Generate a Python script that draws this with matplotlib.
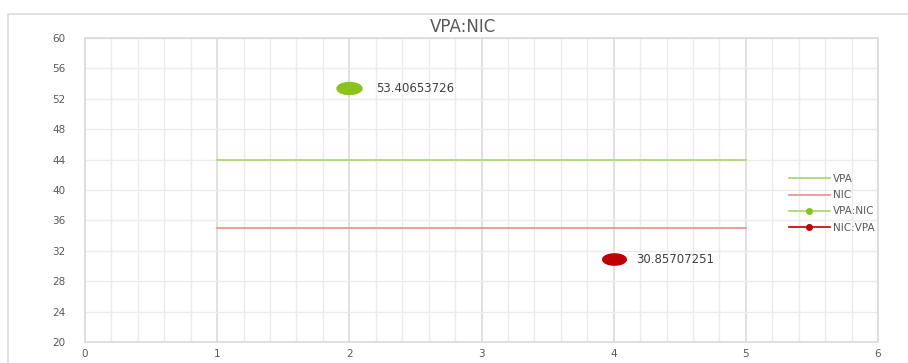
import numpy as np
import matplotlib
matplotlib.use("Agg")
import matplotlib.pyplot as plt
from matplotlib.path import Path
from matplotlib.patches import Rectangle
from matplotlib.lines import Line2D

# series data
vpa_x = [1, 5]
vpa_y = [44, 44]
nic_x = [1, 5]
nic_y = [35, 35]
vpa_nic_x = [2]
vpa_nic_y = [53.40653726]
nic_vpa_x = [4]
nic_vpa_y = [30.85707251]

x_ticks = [0, 1, 2, 3, 4, 5, 6]
y_ticks = [20, 24, 28, 32, 36, 40, 44, 48, 52, 56, 60]

GREEN = "#8cc21e"
GREEN_LINE = "#a9d46a"
RED = "#c00000"
RED_LINE = "#e8908a"
TEXT = "#595959"
GRID = "#ebebeb"


def ellipse_marker(stretch=2.1):
    t = np.linspace(0, 2 * np.pi, 64)
    verts = np.column_stack((stretch * np.cos(t), np.sin(t)))
    return Path(verts, closed=True)


def main():
    fig = plt.figure(figsize=(9.08, 3.63), dpi=100)
    fig.patch.set_facecolor("white")

    # chart frame (left and top edges visible)
    fig.patches.append(Rectangle((8 / 908, -0.05), 1.1, 1 - 14 / 363 + 0.05,
                                 transform=fig.transFigure, fill=False,
                                 edgecolor="#dcdcdc", linewidth=1.2))

    ax = fig.add_axes([85 / 908, 1 - 342 / 363, 793 / 908, 304 / 363])
    ax.set_xlim(0, 6)
    ax.set_ylim(20, 60)
    ax.set_xticks(x_ticks)
    ax.set_yticks(y_ticks)
    ax.set_xticks(np.arange(0, 6.01, 0.2), minor=True)
    ax.grid(True, which="major", axis="x", color="#dadada", linewidth=1.2)
    ax.grid(True, which="minor", axis="x", color=GRID, linewidth=1.0)
    ax.grid(True, which="major", axis="y", color=GRID, linewidth=1.0)
    ax.set_axisbelow(True)
    ax.tick_params(which="both", length=0)
    ax.tick_params(axis="y", pad=14, labelsize=7.5, labelcolor=TEXT)
    ax.tick_params(axis="x", pad=5, labelsize=7.5, labelcolor=TEXT)
    for s in ax.spines.values():
        s.set_color("#dadada")
        s.set_linewidth(1.2)

    ax.plot(vpa_x, vpa_y, color=GREEN_LINE, linewidth=1.2)
    ax.plot(nic_x, nic_y, color=RED_LINE, linewidth=1.2)

    mk = ellipse_marker()
    ax.plot(vpa_nic_x, vpa_nic_y, linestyle="none", marker=mk, markersize=18,
            color=GREEN)
    ax.plot(nic_vpa_x, nic_vpa_y, linestyle="none", marker=mk, markersize=17,
            color=RED)

    for x, y in zip(vpa_nic_x, vpa_nic_y):
        ax.annotate(f"{y:.8f}", (x, y), xytext=(19, 0), textcoords="offset points",
                    ha="left", va="center", fontsize=8.5, color="#404040")
    for x, y in zip(nic_vpa_x, nic_vpa_y):
        ax.annotate(f"{y:.8f}", (x, y), xytext=(16, 0), textcoords="offset points",
                    ha="left", va="center", fontsize=8.5, color="#404040")

    fig.text(463 / 908, 1 - 27 / 363, "VPA:NIC", ha="center", va="center",
             fontsize=12, color=TEXT)

    handles = [
        Line2D([], [], color=GREEN_LINE, linewidth=1.2),
        Line2D([], [], color=RED_LINE, linewidth=1.2),
        Line2D([], [], color=GREEN_LINE, linewidth=1.2, marker="o",
               markersize=4, markerfacecolor=GREEN, markeredgecolor=GREEN),
        Line2D([], [], color=RED, linewidth=1.2, marker="o",
               markersize=4, markerfacecolor=RED, markeredgecolor=RED),
    ]
    labels = ["VPA", "NIC", "VPA:NIC", "NIC:VPA"]
    fig.legend(handles, labels, loc="upper left",
               bbox_to_anchor=(789 / 908, 1 - 174 / 363), frameon=False,
               fontsize=7.5, labelcolor=TEXT, handlelength=3.9,
               handletextpad=0.35, labelspacing=0.6, borderpad=0,
               borderaxespad=0)

    fig.savefig("out.png", dpi=100)


if __name__ == "__main__":
    main()
